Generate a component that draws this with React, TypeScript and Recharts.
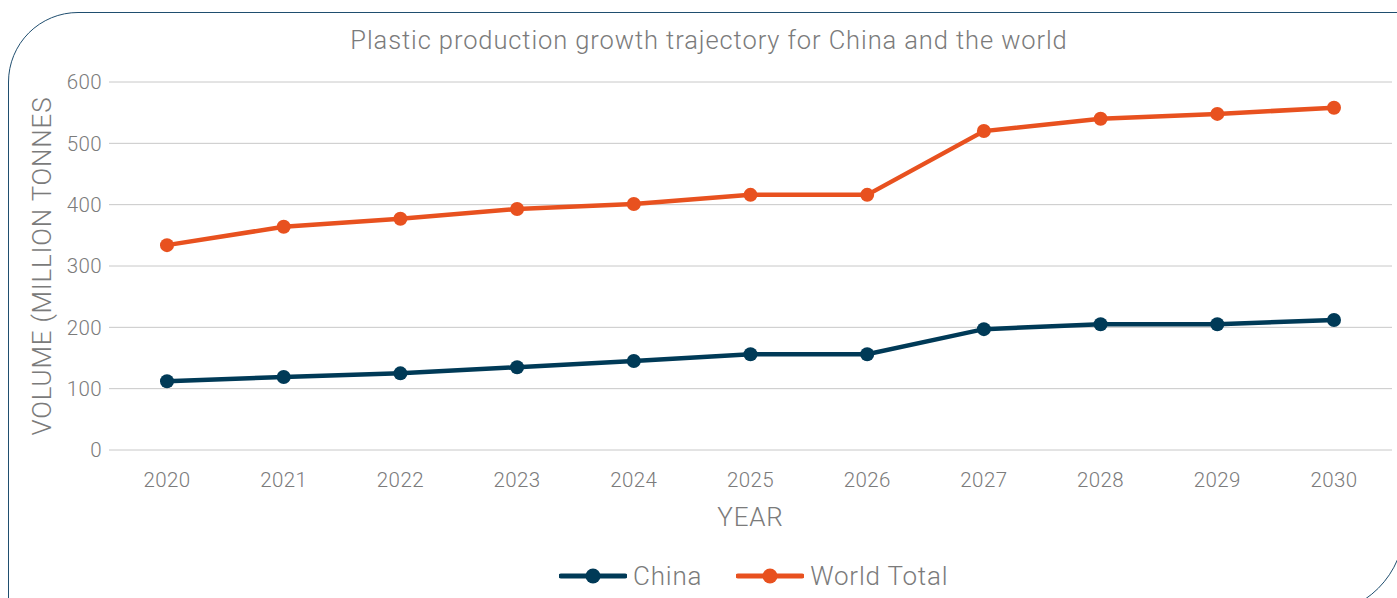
import { LineChart, Line, XAxis, YAxis, CartesianGrid, Legend } from 'recharts';

const years = ['2020', '2021', '2022', '2023', '2024', '2025', '2026', '2027', '2028', '2029', '2030'];
const china = [112, 119, 125, 135, 145, 156, 156, 197, 205, 205, 212];
const worldTotal = [334, 364, 377, 393, 401, 416, 416, 520, 540, 548, 558];
const yTicks = [0, 100, 200, 300, 400, 500, 600];

const data = years.map((year, i) => ({ year, china: china[i], world: worldTotal[i] }));

const FONT = 'Roboto, "Noto Sans", sans-serif';
const GREY = '#7b7b7b';
const CHINA_COLOR = '#003a57';
const WORLD_COLOR = '#e8511f';

function LegendContent() {
  const items = [
    { name: 'China', color: CHINA_COLOR },
    { name: 'World Total', color: WORLD_COLOR },
  ];
  return (
    <div style={{ display: 'flex', alignItems: 'center', height: 40 }}>
      {items.map((it) => (
        <div key={it.name} style={{ display: 'flex', alignItems: 'center', marginRight: 34 }}>
          <svg width={68} height={20}>
            <line x1={2} y1={10} x2={66} y2={10} stroke={it.color} strokeWidth={5} strokeLinecap="round" />
            <circle cx={34} cy={10} r={7.5} fill={it.color} />
          </svg>
          <span
            style={{ marginLeft: 6, fontSize: 26, letterSpacing: 0.8, fontWeight: 300, color: GREY, fontFamily: FONT }}
          >
            {it.name}
          </span>
        </div>
      ))}
    </div>
  );
}

function YLabel(props: any) {
  const vb = props.viewBox || {};
  const cy = vb.y + vb.height / 2;
  return (
    <text
      x={42}
      y={cy}
      transform={`rotate(-90, 42, ${cy})`}
      textAnchor="middle"
      dominantBaseline="central"
      fill={GREY}
      fontSize={26}
      letterSpacing={0.8}
      fontWeight={300}
      fontFamily={FONT}
    >
      VOLUME (MILLION TONNES
    </text>
  );
}

const tickStyle = { fill: GREY, fontSize: 20.5, letterSpacing: 0.4, fontWeight: 300, fontFamily: FONT };

export default function App() {
  return (
    <div
      style={{
        position: 'fixed',
        left: 0,
        top: 0,
        width: 1397,
        height: 598,
        overflow: 'hidden',
        background: '#fff',
        fontFamily: FONT,
      }}
    >
      <div
        style={{
          position: 'absolute',
          left: 8,
          top: 12,
          width: 1397,
          height: 603,
          border: '1.5px solid #1f4e6f',
          borderRadius: '70px 0 90px 0',
          boxSizing: 'border-box',
        }}
      />
      <div
        style={{
          position: 'absolute',
          left: 0,
          top: 25,
          width: 1418,
          textAlign: 'center',
          fontSize: 25.5,
          letterSpacing: 0.9,
          fontWeight: 300,
          color: GREY,
        }}
      >
        Plastic production growth trajectory for China and the world
      </div>
      <div style={{ position: 'absolute', left: 0, top: 0 }}>
        <LineChart width={1397} height={598} data={data} margin={{ top: 82, right: 5, left: 0, bottom: 2 }}>
          <CartesianGrid horizontal vertical={false} stroke="#c8c8c8" strokeWidth={1} />
          <XAxis
            dataKey="year"
            axisLine={false}
            tickLine={false}
            tickSize={0}
            tickMargin={22}
            height={106}
            padding={{ left: 58, right: 58 }}
            tick={tickStyle}
            label={{
              value: 'YEAR',
              position: 'insideBottom',
              offset: 30,
              fill: GREY,
              fontSize: 26,
              letterSpacing: 0.8,
              fontWeight: 300,
              fontFamily: FONT,
            }}
          />
          <YAxis
            domain={[0, 600]}
            ticks={yTicks}
            axisLine={false}
            tickLine={false}
            tickSize={0}
            tickMargin={7}
            width={109}
            tick={tickStyle}
            label={<YLabel />}
          />
          <Legend
            verticalAlign="bottom"
            height={40}
            content={<LegendContent />}
            wrapperStyle={{ left: 559, width: 460 }}
          />
          <Line
            type="linear"
            dataKey="china"
            name="China"
            stroke={CHINA_COLOR}
            strokeWidth={4.5}
            dot={{ r: 7, fill: CHINA_COLOR, stroke: CHINA_COLOR, strokeWidth: 0 }}
            isAnimationActive={false}
          />
          <Line
            type="linear"
            dataKey="world"
            name="World Total"
            stroke={WORLD_COLOR}
            strokeWidth={4.5}
            dot={{ r: 7, fill: WORLD_COLOR, stroke: WORLD_COLOR, strokeWidth: 0 }}
            isAnimationActive={false}
          />
        </LineChart>
      </div>
    </div>
  );
}
